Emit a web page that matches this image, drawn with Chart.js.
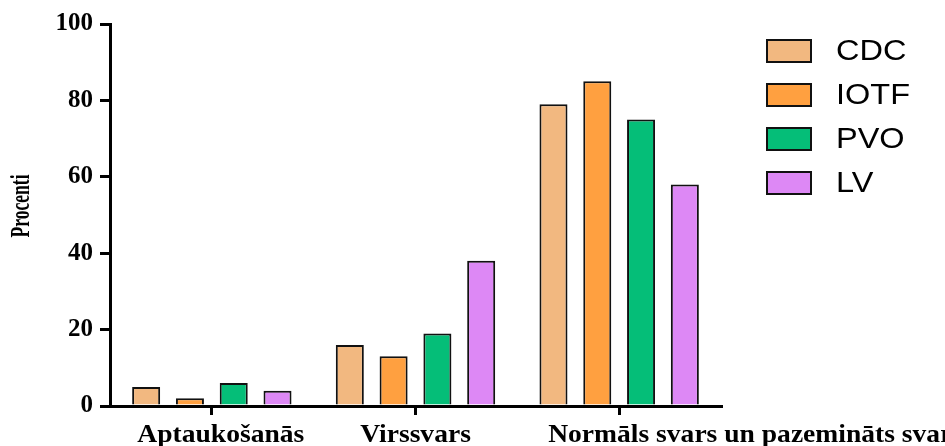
<!DOCTYPE html>
<html>
<head>
<meta charset="utf-8">
<script src="https://cdn.jsdelivr.net/npm/chart.js@4/dist/chart.umd.min.js"></script>
<style>
    html, body { margin: 0; padding: 0; background: #fff; }
    #chart { display: block; }
</style>
</head>
<body>
<canvas id="chart" width="945" height="446"></canvas>
<script>
// data
var categories = ['Aptaukošanās', 'Virssvars', 'Normāls svars un pazemināts svars'];
var seriesNames = ['CDC', 'IOTF', 'PVO', 'LV'];
var cdcValues = [5, 16, 79];
var iotfValues = [2, 13, 85];
var pvoValues = [6, 19, 75];
var lvValues = [4, 38, 58];
var yTicks = [0, 20, 40, 60, 80, 100];
var yTitle = 'Procenti';

var seriesColors = ['#F2B880', '#FFA040', '#05BE78', '#DD88F5'];
var serifFont = '"Liberation Serif", "Times New Roman", serif';
var sansFont = '"Liberation Sans", Arial, sans-serif';

// category label placement (the last label runs off the right edge in the original)
var labelAlign = ['center', 'center', 'left'];
var labelShift = [9, 0, -71];

var allValues = [cdcValues, iotfValues, pvoValues, lvValues];
var datasets = seriesNames.map(function (name, i) {
    return {
        label: name,
        data: allValues[i],
        backgroundColor: seriesColors[i],
        borderColor: '#111',
        borderWidth: 2,
        categoryPercentage: 0.86,
        barPercentage: 0.64
    };
});

// text stretched along x, the original picture is a bit wide
function stretchedText(ctx, text, x, y, align, sx) {
    var w = ctx.measureText(text).width * sx;
    var left = x;
    if (align === 'center') left = x - w / 2;
    else if (align === 'right') left = x - w;
    ctx.save();
    ctx.translate(left, y);
    ctx.scale(sx, 1);
    ctx.textAlign = 'left';
    ctx.fillText(text, 0, 0);
    ctx.restore();
}

// side legend, drawn by hand to get the big boxes
var sideLegend = {
    id: 'sideLegend',
    afterDraw: function (chart) {
        var ctx = chart.ctx;
        var x = chart.chartArea.right + 46;
        ctx.save();
        ctx.font = '29px ' + sansFont;
        ctx.textBaseline = 'middle';
        chart.data.datasets.forEach(function (ds, i) {
            var y = 40 + i * 44;
            ctx.fillStyle = ds.backgroundColor;
            ctx.fillRect(x, y, 44, 22);
            ctx.lineWidth = 2;
            ctx.strokeStyle = '#111';
            ctx.strokeRect(x, y, 44, 22);
            ctx.fillStyle = '#000';
            stretchedText(ctx, ds.label, x + 69, y + 12, 'left', 1.12);
        });
        ctx.restore();
    }
};

// category labels under the x axis and the y title
var axisTexts = {
    id: 'axisTexts',
    afterDraw: function (chart) {
        var ctx = chart.ctx;
        var scale = chart.scales.x;
        var area = chart.chartArea;
        ctx.save();
        ctx.font = 'bold 26px ' + serifFont;
        ctx.fillStyle = '#000';
        ctx.textBaseline = 'alphabetic';
        chart.data.labels.forEach(function (label, i) {
            stretchedText(ctx, label, scale.getPixelForTick(i) + labelShift[i], area.bottom + 36, labelAlign[i], 1.06);
        });

        // rotated title, squeezed along its length
        ctx.font = 'bold 27px ' + serifFont;
        ctx.translate(22, (area.top + area.bottom) / 2 - 9);
        ctx.rotate(-Math.PI / 2);
        ctx.textBaseline = 'middle';
        stretchedText(ctx, yTitle, 0, 0, 'center', 0.65);
        ctx.restore();
    }
};

var ctx = document.getElementById('chart');
var myChart = new Chart(ctx, {
    type: 'bar',
    data: {
        labels: categories,
        datasets: datasets
    },
    options: {
        responsive: false,
        animation: false,
        layout: {
            padding: { top: 24, right: 224, left: 0, bottom: 0 }
        },
        plugins: {
            legend: { display: false },
            tooltip: { enabled: false }
        },
        scales: {
            x: {
                type: 'category',
                offset: true,
                grid: {
                    offset: false,
                    drawOnChartArea: false,
                    drawTicks: true,
                    tickLength: 9,
                    lineWidth: 3,
                    color: '#000'
                },
                border: { display: true, width: 3, color: '#000' },
                ticks: { display: false },
                afterFit: function (s) { s.height = 40; }
            },
            y: {
                min: 0,
                max: 100,
                afterBuildTicks: function (s) {
                    s.ticks = yTicks.map(function (v) { return { value: v }; });
                },
                ticks: {
                    color: '#000',
                    padding: 7,
                    font: { family: serifFont, size: 25, weight: 'bold' }
                },
                grid: {
                    drawOnChartArea: false,
                    drawTicks: true,
                    tickLength: 10,
                    lineWidth: 3,
                    color: '#000'
                },
                border: { display: true, width: 3, color: '#000' },
                afterFit: function (s) { s.width = 110; }
            }
        }
    },
    plugins: [sideLegend, axisTexts]
});
</script>
</body>
</html>
